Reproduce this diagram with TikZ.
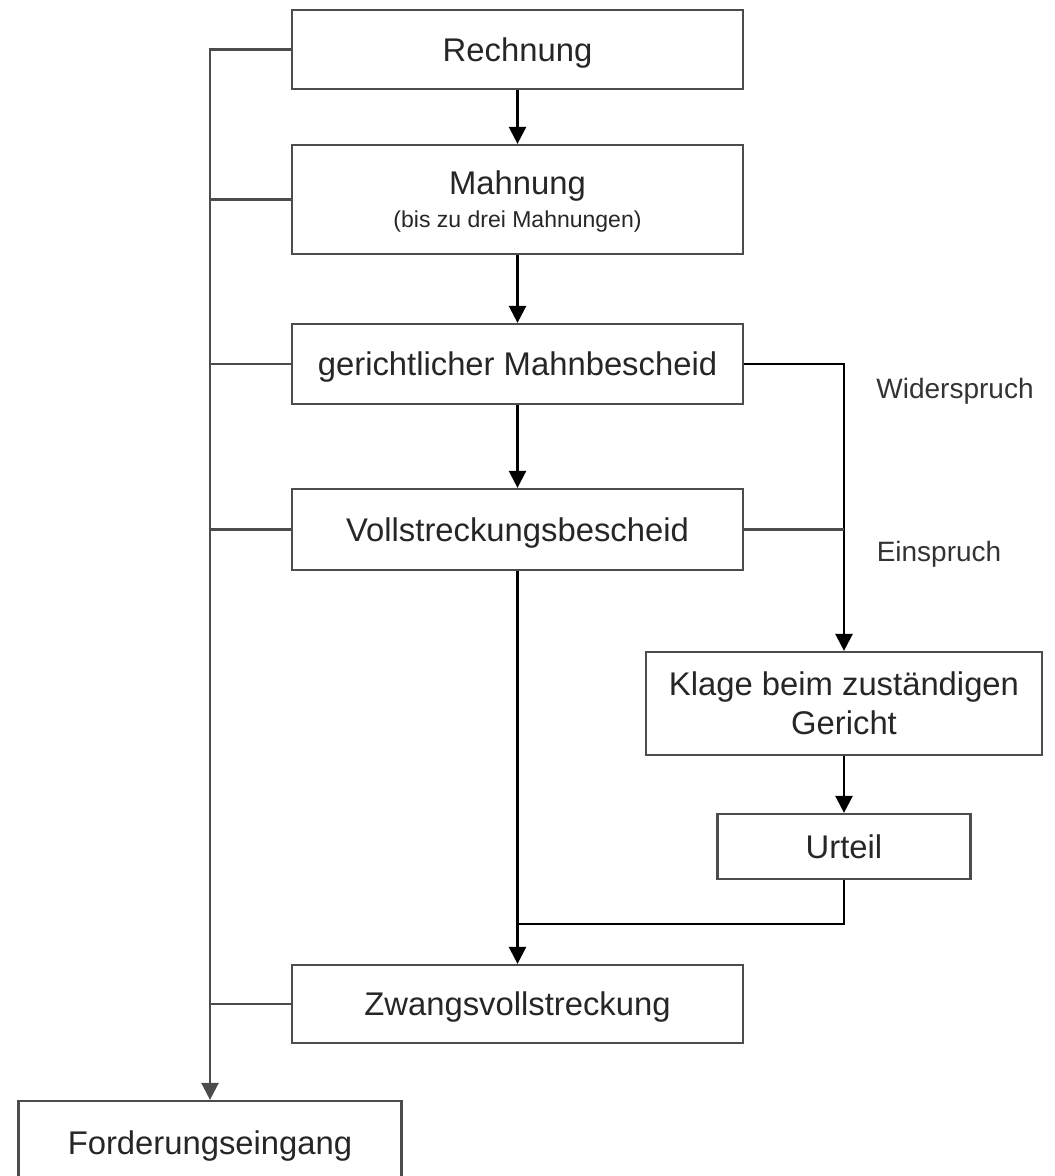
\documentclass[tikz,border=0pt]{standalone}
\usepackage{fontspec}
\setmainfont{Liberation Sans}
\usetikzlibrary{arrows.meta}

\begin{document}
\begin{tikzpicture}[%%
  x=0.5pt,y=-0.5pt,%%
  boxStyle/.style={draw=black!70,line width=1.1pt,inner sep=0pt,align=center,%%
    text=black!85,font=\fontsize{16.4}{19.5}\selectfont,%%
    text depth=0pt,minimum width=225.5pt},%%
  labelStyle/.style={text=black!80,font=\fontsize{14}{17}\selectfont},%%
  lineStyle/.style={-,draw=black!70,line width=1.2pt},%%
  arrowStyle/.style={-{Triangle[length=8.5pt,width=8.5pt]},draw=black,line width=1.2pt}%%
]
%%
\useasboundingbox (0,0) rectangle (1054,1176);
%%
\pgfmathsetmacro{\xmain}{517.5}
\pgfmathsetmacro{\xside}{844}
\pgfmathsetmacro{\xtrunk}{210}
%%
%% The main column.
\node[boxStyle,minimum height=39.5pt] (rechnung) at (\xmain,49.5) {Rechnung};
\node[boxStyle,minimum height=54.5pt] (mahnung) at (\xmain,199.5)
  {Mahnung\\[-3pt]{\fontsize{11.5}{13}\selectfont (bis zu drei Mahnungen)}};
\node[boxStyle,minimum height=40pt] (mahnbescheid) at (\xmain,364)
  {gerichtlicher Mahnbescheid};
\node[boxStyle,minimum height=40.5pt] (vollstreckung) at (\xmain,529.5)
  {Vollstreckungsbescheid};
\node[boxStyle,minimum height=39pt] (zwang) at (\xmain,1004)
  {Zwangsvollstreckung};
%% The side column.
\node[boxStyle,minimum width=198pt,minimum height=51.5pt] (klage) at (\xside,703.5)
  {Klage beim zuständigen\\Gericht};
\node[boxStyle,minimum width=126.5pt,minimum height=32.5pt] (urteil) at (\xside,846.5)
  {Urteil};
%% The end.
\node[boxStyle,minimum width=191.5pt,minimum height=42pt] (forderung) at (\xtrunk,1143)
  {Forderungseingang};
%%
%% Labels of the side path.
\node[labelStyle] (widerspruch) at (955,391) {Widerspruch};
\node[labelStyle] (einspruch) at (939,554) {Einspruch};
%%
%% Arrows down the main column.
\draw[arrowStyle] (rechnung) -- (mahnung);
\draw[arrowStyle] (mahnung) -- (mahnbescheid);
\draw[arrowStyle] (mahnbescheid) -- (vollstreckung);
\draw[arrowStyle] (vollstreckung) -- (zwang);
%% The trunk on the left, with its branches.
\draw[lineStyle,arrowStyle,draw=black!70] (rechnung.west) -| (forderung.north);
\foreach \n in {mahnung,mahnbescheid,vollstreckung,zwang}
  \draw[lineStyle] (\n.west) -- (\n.west -| forderung.north);
%% The side path.
\draw[arrowStyle] (mahnbescheid.east) -| (klage.north);
\draw[lineStyle] (vollstreckung.east) -- (vollstreckung.east -| klage.north);
\draw[arrowStyle] (klage) -- (urteil);
\coordinate (merge) at (\xmain,924);
\draw[lineStyle,draw=black] (urteil.south) |- (merge);
\end{tikzpicture}
\end{document}
